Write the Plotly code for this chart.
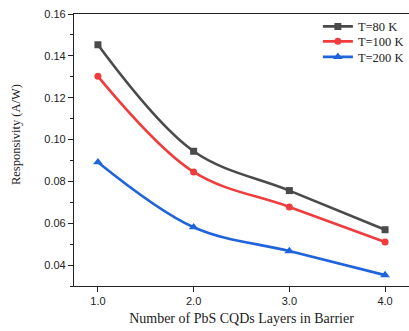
import plotly.graph_objects as go

layers = [1.0, 2.0, 3.0, 4.0]
tick_text = ["1.0", "2.0", "3.0", "4.0"]
t80 = [0.1453, 0.0944, 0.0756, 0.0569]
t100 = [0.1302, 0.0845, 0.0678, 0.0510]
t200 = [0.0892, 0.0581, 0.0467, 0.0352]
names = ["T=80 K", "T=100 K", "T=200 K"]
colors = ["#4a4a4a", "#f03c3c", "#1f64da"]
symbols = ["square", "circle", "triangle-up"]
legend_ids = ["legend", "legend2", "legend3"]
legend_y = [0.953, 0.898, 0.841]

fig = go.Figure()
for ys, nm, c, s, lg in zip([t80, t100, t200], names, colors, symbols, legend_ids):
    fig.add_trace(go.Scatter(
        x=layers, y=ys, name=nm, mode="lines+markers", legend=lg,
        line=dict(color=c, width=2.6, shape="spline", smoothing=1.0),
        marker=dict(symbol=s, size=7 if s != "triangle-up" else 8.5, color=c),
    ))

axis_common = dict(showline=True, linecolor="#222", linewidth=1.2, ticks="outside",
                   tickcolor="#222", ticklen=5, tickwidth=1.2, showgrid=False, zeroline=False,
                   tickfont=dict(family="Liberation Sans, Arial", size=11, color="#222"))

serif = "Liberation Serif, Times New Roman"
leg_common = dict(x=0.728, xanchor="left", yanchor="middle", bgcolor="rgba(0,0,0,0)",
                  font=dict(family=serif, size=12.5, color="#222"), itemwidth=30)

fig.update_layout(
    width=409, height=331,
    margin=dict(l=74, r=0, t=14, b=45),
    plot_bgcolor="white", paper_bgcolor="white",
    xaxis=dict(range=[0.75, 4.25], tickvals=layers, ticktext=tick_text,
               mirror=True,
               title=dict(text="Number of PbS CQDs Layers in Barrier", standoff=6,
                          font=dict(family=serif, size=14, color="#222")),
               **axis_common),
    yaxis=dict(range=[0.03, 0.16], dtick=0.02, tick0=0.04, tickformat=".2f",
               minor=dict(dtick=0.01, tick0=0.03, ticks="outside", ticklen=3, tickcolor="#222", tickwidth=1.2),
               **axis_common),
    legend=dict(y=legend_y[0], **leg_common),
    legend2=dict(y=legend_y[1], **leg_common),
    legend3=dict(y=legend_y[2], **leg_common),
    showlegend=True,
    annotations=[dict(text="Responsivity (A/W)", textangle=-90, xref="paper", yref="paper",
                      x=-0.173, y=0.555, xanchor="center", yanchor="middle", showarrow=False,
                      font=dict(family=serif, size=12.5, color="#222"))],
)

fig.write_html("out.html")
